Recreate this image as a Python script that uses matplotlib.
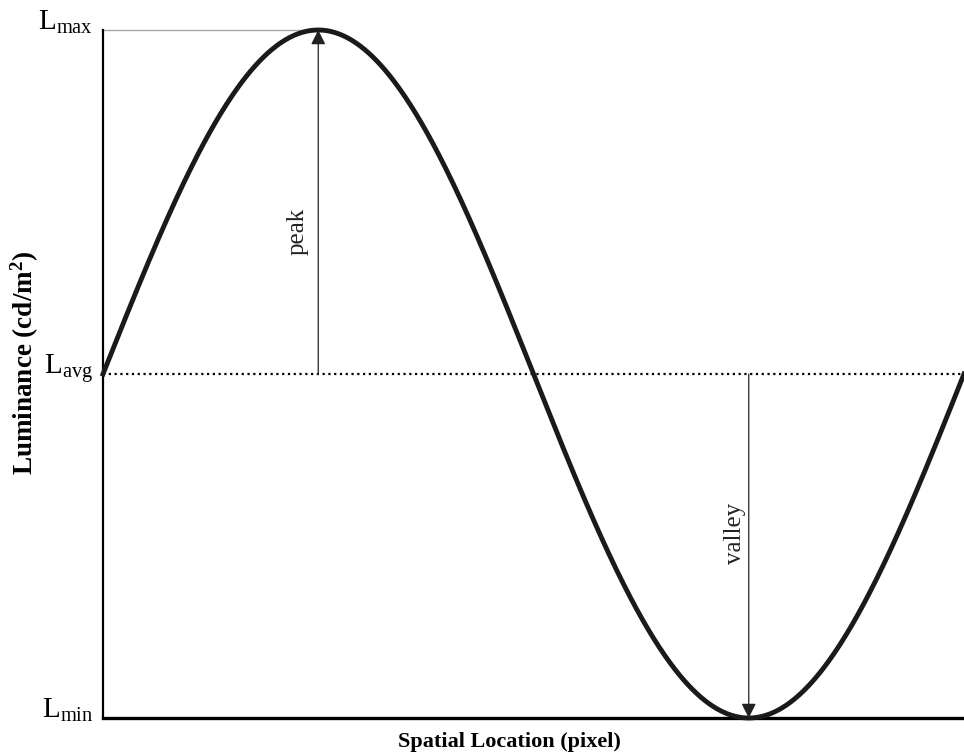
import numpy as np
import matplotlib
matplotlib.use("Agg")
import matplotlib.pyplot as plt

plt.rcParams['font.family'] = ['Liberation Serif', 'DejaVu Serif']
plt.rcParams['mathtext.fontset'] = 'custom'
plt.rcParams['mathtext.rm'] = 'Liberation Serif'
plt.rcParams['mathtext.it'] = 'Liberation Serif:italic'
plt.rcParams['mathtext.bf'] = 'Liberation Serif:bold'

# luminance levels (arbitrary units) and one full spatial cycle
l_min = 0.0
l_avg = 1.0
l_max = 2.0
n_cycles = 1
tick_vals = [l_min, l_avg, l_max]
tick_labels = [r'L$_{\mathrm{min}}$', r'L$_{\mathrm{avg}}$', r'L$_{\mathrm{max}}$']

x = np.linspace(0, n_cycles * 2 * np.pi, 600)
amp = (l_max - l_min) / 2
y = l_avg + amp * np.sin(x)
x_peak = np.pi / 2
x_valley = 3 * np.pi / 2

fig = plt.figure(figsize=(9.64, 7.55), dpi=100)
ax = fig.add_axes([103 / 964, 37 / 755, 861 / 964, 688 / 755])

ax.plot(x, y, color='#1a1a1a', lw=3.5, clip_on=False, zorder=3)
ax.axhline(l_avg, color='black', lw=1.6, ls=(0, (1, 1.6)), zorder=2)
ax.plot([0, x_peak], [l_max, l_max], color='#aaaaaa', lw=1.0, clip_on=False)

arrow = dict(arrowstyle='-|>', color='#222222', lw=0.9, mutation_scale=22,
             shrinkA=0, shrinkB=0)
ax.annotate('', xy=(x_peak, l_max), xytext=(x_peak, l_avg), arrowprops=arrow,
            annotation_clip=False)
ax.annotate('', xy=(x_valley, l_min), xytext=(x_valley, l_avg), arrowprops=arrow,
            annotation_clip=False)

ax.text(1.423, l_avg + 0.413 * amp, 'peak', rotation=90, ha='center', va='center',
        fontsize=18, color='#222222')
ax.text(4.612, l_avg - 0.462 * amp, 'valley', rotation=90, ha='center', va='center',
        fontsize=18, color='#222222')

ax.set_xlim(0, n_cycles * 2 * np.pi)
ax.set_ylim(l_min, l_max)
ax.set_xticks([])
ax.set_yticks(tick_vals)
ax.set_yticklabels(tick_labels, fontsize=21, va='baseline')
ax.tick_params(axis='y', length=0, pad=7)

for s in ['top', 'right']:
    ax.spines[s].set_visible(False)
ax.spines['left'].set_linewidth(1.6)
ax.spines['bottom'].set_linewidth(2.4)

ax.set_xlabel('Spatial Location (pixel)', fontsize=16, fontweight='bold')
ax.xaxis.set_label_coords(0.4716, -0.02)
ax.set_ylabel('Luminance (cd/m$^{\\mathbf{2}}$)', fontsize=19.5, fontweight='bold')
ax.yaxis.set_label_coords(-0.072, 0.517)

fig.savefig('out.png', dpi=100)
